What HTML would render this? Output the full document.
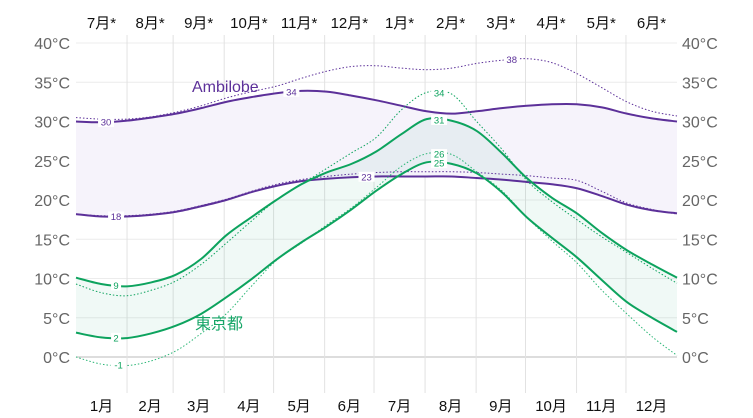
<!DOCTYPE html>
<html><head><meta charset="utf-8">
<style>
html,body{margin:0;padding:0;background:#fff;}
svg{display:block;font-family:"Liberation Sans","Noto Sans CJK JP",sans-serif;}
</style></head>
<body>
<svg id="chart" width="753" height="418" viewBox="0 0 753 418">
<g id="grid"></g>
<g id="bands"></g>
<g id="lines"></g>
<g id="labels"></g>
<g id="axes"></g>
<text x="192" y="92" font-size="16" fill="#5c3099">Ambilobe</text>
<text x="195" y="329" font-size="16" fill="#17a668">東京都</text>
</svg>
<script>
const monthPos=[0,0.5,1,1.5,2,2.5,3,3.5,4,4.5,5,5.5,6,6.5,7,7.5,8,8.5,9,9.5,10,10.5,11,11.5,12];
const tokyoHigh=[10.1,9.3,9.0,9.5,10.5,12.5,15.5,17.8,20,22,23.5,24.6,26.2,28.4,30.3,30.1,28.8,26,22.8,20.3,18.3,15.8,13.6,11.8,10.1];
const tokyoLow=[3.1,2.5,2.4,3.0,4.0,5.5,7.6,9.9,12.4,14.6,16.6,18.8,21.2,23.3,24.8,24.6,23.4,21.0,17.8,15.2,12.7,9.8,7.0,5.0,3.2];
const tokyoHighP=[9.3,8.2,7.8,8.5,9.7,11.8,14.5,17.3,20,22,24,26,28,31.5,33.7,33.5,30,26.5,22.5,19.8,17.5,15.3,13.3,11.3,9.4];
const tokyoLowP=[0.0,-0.9,-1.1,-0.5,0.8,3,5.5,9,12.3,14.5,16.8,19,21.6,24.3,25.9,25.8,23.6,21.2,17.8,14.8,12,8.5,5.5,2.6,0.2];
const ambHigh=[30.0,29.9,30.1,30.5,31.0,31.7,32.5,33.1,33.6,33.9,33.8,33.3,32.7,32.0,31.3,31.0,31.3,31.7,32.0,32.2,32.2,31.8,31.0,30.4,30.0];
const ambHighP=[30.5,30.3,30.3,30.6,31.2,32.0,33.0,33.8,34.5,35.5,36.4,37.0,37.1,36.8,36.6,36.8,37.4,37.8,38.0,37.5,36.1,34.3,32.5,31.3,30.7];
const ambLow=[18.2,17.9,17.9,18.1,18.5,19.2,20.0,21.0,21.8,22.4,22.7,22.9,23.0,23.0,23.0,23.0,22.8,22.6,22.3,22.0,21.5,20.5,19.4,18.7,18.3];
const ambLowP=[18.2,18.0,18.0,18.2,18.6,19.3,20.1,21.1,22.0,22.6,23.0,23.3,23.5,23.6,23.6,23.6,23.5,23.3,23.1,22.8,22.5,21.1,19.6,18.8,18.2];
const yTicks=[0,5,10,15,20,25,30,35,40];
const bottomMonths=["1月","2月","3月","4月","5月","6月","7月","8月","9月","10月","11月","12月"];
const topMonths=["7月*","8月*","9月*","10月*","11月*","12月*","1月*","2月*","3月*","4月*","5月*","6月*"];
const monthDays=[31,28,31,30,31,30,31,31,30,31,30,31];
const valueLabels=[
 {s:"ambHigh",m:0.6,t:"30"},{s:"ambHigh",m:4.3,t:"34"},{s:"ambHighP",m:8.7,t:"38"},
 {s:"ambLow",m:0.8,t:"18"},{s:"ambLow",m:5.8,t:"23"},
 {s:"tokyoHigh",m:0.8,t:"9"},{s:"tokyoHigh",m:7.25,t:"31"},{s:"tokyoLow",m:0.8,t:"2"},{s:"tokyoLow",m:7.25,t:"25"},
 {s:"tokyoHighP",m:7.25,t:"34"},{s:"tokyoLowP",m:0.85,t:"-1"},{s:"tokyoLowP",m:7.25,t:"26"}];
const X0=76,X1=677,Y0=357,PERC=7.85;
const NS="http://www.w3.org/2000/svg";
function xS(m){return X0+m*(X1-X0)/12;}
function yS(v){return Y0-v*PERC;}
function xDay(d){return X0+d*(X1-X0)/365;}
function mk(tag,attrs,parent){const e=document.createElementNS(NS,tag);for(const k in attrs)e.setAttribute(k,attrs[k]);parent.appendChild(e);return e;}
function pts(vals){return vals.map((v,i)=>[xS(monthPos[i]),yS(v)]);}
function smooth(p,move){let d=move?`M${p[0][0]},${p[0][1]}`:`L${p[0][0]},${p[0][1]}`;
 for(let i=0;i<p.length-1;i++){const a=p[Math.max(0,i-1)],b=p[i],c=p[i+1],e=p[Math.min(p.length-1,i+2)];
 d+=`C${b[0]+(c[0]-a[0])/6},${b[1]+(c[1]-a[1])/6} ${c[0]-(e[0]-b[0])/6},${c[1]-(e[1]-b[1])/6} ${c[0]},${c[1]}`;}return d;}
function interp(vals,m){for(let i=0;i<monthPos.length-1;i++){if(m>=monthPos[i]&&m<=monthPos[i+1]){const f=(m-monthPos[i])/(monthPos[i+1]-monthPos[i]);return vals[i]+f*(vals[i+1]-vals[i]);}}return vals[vals.length-1];}
const G=document.getElementById('grid'),B=document.getElementById('bands'),L=document.getElementById('lines'),LB=document.getElementById('labels'),A=document.getElementById('axes');
yTicks.forEach(t=>{
 const ln=mk('line',{x1:X0,x2:X1,y1:yS(t),y2:yS(t),stroke:t===0?'#bbb':'#ececec','stroke-width':1},G);
 
 
 const tl=mk('text',{x:70,y:yS(t)+6,'text-anchor':'end','font-size':16,fill:'#666'},A);tl.textContent=t+'°C';
 
 
 const tr=mk('text',{x:682,y:yS(t)+6,'font-size':16,fill:'#666'},A);tr.textContent=t+'°C';
 
 
});
let cum=0;const bounds=[0];
monthDays.forEach(d=>{cum+=d;bounds.push(cum);});
for(let i=1;i<12;i++){const x=xDay(bounds[i]);
 const v=mk('line',{x1:x,x2:x,y1:35,y2:393,stroke:'#e2e2e2','stroke-width':1},G);
 
 }
for(let i=0;i<12;i++){const xc=(xDay(bounds[i])+xDay(bounds[i+1]))/2;
 const b=mk('text',{x:xc,y:411,'text-anchor':'middle','font-size':15,fill:'#111'},A);b.textContent=bottomMonths[i];
 
 
 const t=mk('text',{x:xc,y:28,'text-anchor':'middle','font-size':15,fill:'#111'},A);t.textContent=topMonths[i];
 
 }
function band(hi,lo,fill,name){const d=smooth(pts(hi),true)+smooth(pts(lo).reverse(),false)+'Z';
 const p=mk('path',{d:d,fill:fill,stroke:'none'},B);
 
 }
band(ambHigh,ambLow,'#f6f3fb','ambilobe-band');
band(tokyoHigh,tokyoLow,'rgba(0,160,100,0.06)','tokyo-band');
const PURP='#5c3099',GRN='#0da35e';
function line(vals,col,dotted,name){const p=mk('path',{d:smooth(pts(vals),true),fill:'none',stroke:col,'stroke-width':dotted?1:2,'stroke-dasharray':dotted?'1.5 2':'none'},L);
 
 }
line(ambHighP,PURP,true,'ambilobe-high-p90');
line(ambLowP,PURP,true,'ambilobe-low-p90');
line(ambHigh,PURP,false,'ambilobe-high');
line(ambLow,PURP,false,'ambilobe-low');
line(tokyoHighP,GRN,true,'tokyo-high-p90');
line(tokyoLowP,'#2bb676',true,'tokyo-low-p10');
line(tokyoHigh,GRN,false,'tokyo-high');
line(tokyoLow,GRN,false,'tokyo-low');
const SER={ambHigh,ambHighP,ambLow,tokyoHigh,tokyoLow,tokyoHighP,tokyoLowP};
valueLabels.forEach(o=>{const x=xS(o.m),y=yS(interp(SER[o.s],o.m));const col=o.s.startsWith('amb')?PURP:GRN;
 const w=o.t.length*6+4;
 const r=mk('rect',{x:x-w/2,y:y-5,width:w,height:10,fill:'#fff'},LB);
 
 
 const t=mk('text',{x:x,y:y+3.5,'text-anchor':'middle','font-size':9.5,fill:col},LB);t.textContent=o.t;
 
 });
</script>
</body></html>
